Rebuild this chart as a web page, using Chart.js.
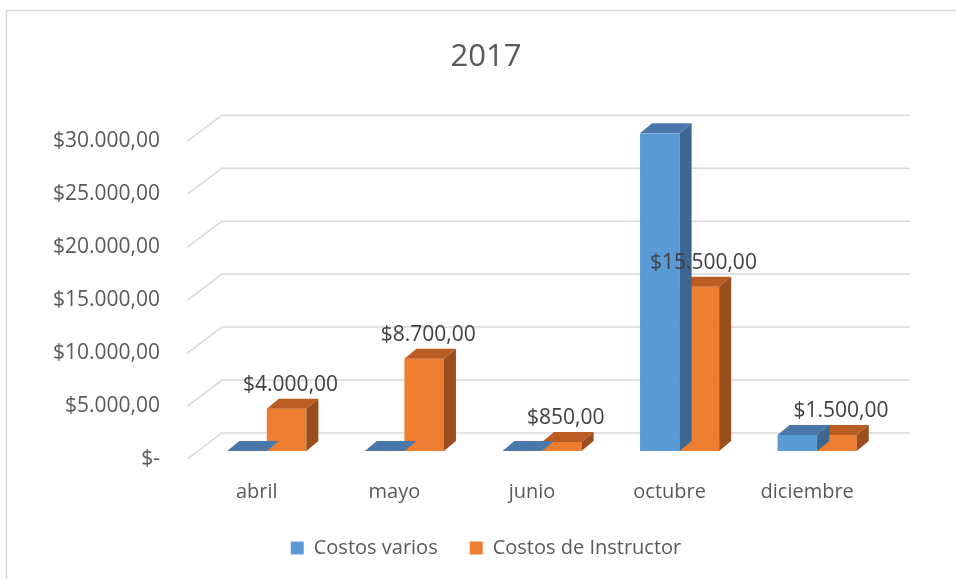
<!DOCTYPE html>
<html>
<head>
<meta charset="utf-8">
<script src="https://cdn.jsdelivr.net/npm/chart.js@4.4.1/dist/chart.umd.min.js"></script>
<style>
  html,body{margin:0;padding:0;background:#fff}
  #wrap{width:956px;height:579px;position:relative}
</style>
</head>
<body>
<div id="wrap"><canvas id="c" width="956" height="579"></canvas></div>
<script>
// 2017 — costos por mes (barras 3D estilo Excel)
const MESES = ['abril','mayo','junio','octubre','diciembre'];
const COSTOS_VARIOS = [0, 0, 0, 30000, 1500];
const COSTOS_INSTRUCTOR = [4000, 8700, 850, 15500, 1500];
const Y_TICKS = [0, 5000, 10000, 15000, 20000, 25000, 30000];

const TXT = '#595959';
const GRID = '#d9d9d9';
const FONT = "'Open Sans', sans-serif";

// depth of the whole plot and of each bar
const WALL = {fx:-10.7, fy:8, bx:24, by:-18};
const BAR = {dx:12, dy:-10};

const fmtMoney = v => {
  if(v===0) return '$-';
  const s = v.toFixed(2).split('.');
  return '$' + s[0].replace(/\B(?=(\d{3})+(?!\d))/g,'.') + ',' + s[1];
};

const faces = [
  {top:'#4a78aa', side:'#3d6690'},
  {top:'#bb5c22', side:'#9a4e1d'}
];

const framePlugin = {
  id:'frame',
  beforeDraw(chart){
    const ctx = chart.ctx;
    ctx.save();
    ctx.strokeStyle = GRID; ctx.lineWidth = 1.5;
    ctx.beginPath();
    ctx.moveTo(6.5, 600); ctx.lineTo(6.5, 10.5); ctx.lineTo(1000, 10.5);
    ctx.stroke();
    ctx.restore();
  }
};

const wallPlugin = {
  id:'wall',
  beforeDatasetsDraw(chart){
    const {ctx, chartArea:a, scales:{y}} = chart;
    ctx.save();
    ctx.strokeStyle = GRID; ctx.lineWidth = 1.5;
    Y_TICKS.forEach(v=>{
      const py = y.getPixelForValue(v);
      ctx.beginPath();
      ctx.moveTo(a.left+WALL.fx, py+WALL.fy);
      ctx.lineTo(a.left+WALL.bx, py+WALL.by);
      ctx.lineTo(a.right+WALL.bx, py+WALL.by);
      ctx.stroke();
    });
    ctx.restore();
  }
};

const bar3dPlugin = {
  id:'bar3d',
  afterDatasetDraw(chart, args){
    const ctx = chart.ctx;
    const f = faces[args.index];
    const {dx, dy} = BAR;
    ctx.save();
    args.meta.data.forEach(b=>{
      const x0 = b.x - b.width/2, x1 = b.x + b.width/2;
      const top = b.y, base = b.base;
      // top face
      ctx.fillStyle = f.top;
      ctx.beginPath();
      ctx.moveTo(x0, top); ctx.lineTo(x1, top);
      ctx.lineTo(x1+dx, top+dy); ctx.lineTo(x0+dx, top+dy);
      ctx.closePath(); ctx.fill();
      // side face
      if(base-top > 0.5){
        ctx.fillStyle = f.side;
        ctx.beginPath();
        ctx.moveTo(x1, top); ctx.lineTo(x1+dx, top+dy);
        ctx.lineTo(x1+dx, base+dy); ctx.lineTo(x1, base);
        ctx.closePath(); ctx.fill();
      }
    });
    ctx.restore();
  },
  afterDatasetsDraw(chart){
    const ctx = chart.ctx;
    const meta = chart.getDatasetMeta(1);
    ctx.save();
    ctx.font = "21px " + FONT;
    ctx.fillStyle = '#404040';
    ctx.textAlign = 'center'; ctx.textBaseline = 'middle';
    meta.data.forEach((b,i)=>{
      ctx.fillText(fmtMoney(COSTOS_INSTRUCTOR[i]), b.x+4, b.y-24);
    });
    ctx.restore();
  }
};

new Chart(document.getElementById('c'), {
  type:'bar',
  data:{
    labels:MESES,
    datasets:[
      {label:'Costos varios', data:COSTOS_VARIOS, backgroundColor:'#5b9bd5', borderWidth:0},
      {label:'Costos de Instructor', data:COSTOS_INSTRUCTOR, backgroundColor:'#ed7d31', borderWidth:0}
    ]
  },
  options:{
    responsive:false, animation:false,
    layout:{padding:{left:16, right:0, top:0, bottom:11}},
    categoryPercentage:0.575, barPercentage:1,
    plugins:{
      title:{display:true, text:'2017', color:TXT, font:{family:FONT, size:31, weight:'normal'}, padding:{top:39, bottom:57}},
      legend:{position:'bottom', labels:{color:TXT, font:{family:FONT, size:20}, boxWidth:13, boxHeight:13, padding:32}},
      tooltip:{enabled:false}
    },
    scales:{
      x:{
        grid:{display:false, drawTicks:false}, border:{display:false},
        ticks:{color:TXT, font:{family:FONT, size:20}, padding:29, labelOffset:-10},
        afterFit(s){ s.height = 55; }
      },
      y:{
        min:0, max:30000,
        grid:{display:false, drawTicks:false}, border:{display:false},
        afterBuildTicks(s){ s.ticks = Y_TICKS.map(v=>({value:v})); },
        ticks:{color:TXT, font:{family:FONT, size:21}, padding:38, labelOffset:8, callback:v=>fmtMoney(v)},
        afterFit(s){ s.width = 182; }
      },
      // empty right strip leaving room for the back wall
      yRight:{
        position:'right', display:true,
        grid:{display:false, drawTicks:false}, border:{display:false},
        ticks:{display:false},
        afterFit(s){ s.width = 70; }
      }
    }
  },
  plugins:[framePlugin, wallPlugin, bar3dPlugin]
});
</script>
</body>
</html>
